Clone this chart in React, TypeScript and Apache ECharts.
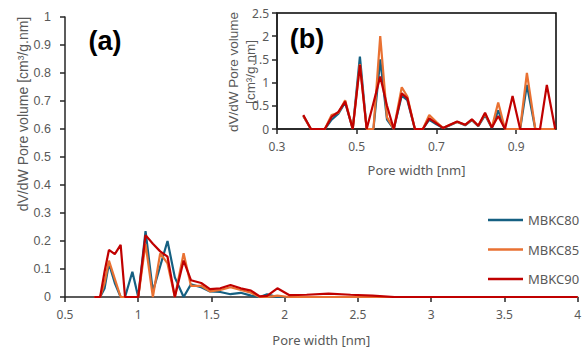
import React, { useEffect, useRef } from "react";
import * as echarts from "echarts";

// Main chart (a)
const mainWidth = [0.70, 0.74, 0.77, 0.80, 0.84, 0.88, 0.91, 0.96, 1.00, 1.05, 1.10, 1.15, 1.20, 1.25, 1.31, 1.36, 1.43, 1.49, 1.56, 1.63, 1.70, 1.77, 1.83, 1.88, 1.95, 2.03, 2.15, 2.30, 2.45, 2.60, 2.75, 3.00, 3.50, 4.00];
const mbkc80Main = [0, 0, 0.03, 0.12, 0.05, 0, 0, 0.09, 0, 0.235, 0.02, 0.11, 0.2, 0.07, 0, 0.045, 0.035, 0.02, 0.018, 0.01, 0.015, 0.005, 0, 0.01, 0, 0, 0, 0, 0, 0, 0, 0, 0, 0];
const mbkc85Main = [0, 0, 0.05, 0.13, 0.065, 0, 0, 0, 0, 0.19, 0, 0.156, 0.12, 0, 0.156, 0.04, 0.04, 0.02, 0.025, 0.035, 0.025, 0.015, 0, 0, 0.005, 0, 0, 0, 0, 0, 0, 0, 0, 0];
const mbkc90Main = [0, 0, 0.09, 0.168, 0.153, 0.186, 0, 0, 0, 0.221, 0.19, 0.163, 0.144, 0, 0.13, 0.06, 0.05, 0.028, 0.031, 0.043, 0.031, 0.023, 0.002, 0.004, 0.031, 0.007, 0.008, 0.012, 0.008, 0.005, 0, 0, 0, 0];

// Inset (b)
const insetWidth = [0.366, 0.385, 0.403, 0.42, 0.437, 0.454, 0.471, 0.49, 0.508, 0.525, 0.542, 0.559, 0.576, 0.593, 0.613, 0.627, 0.646, 0.666, 0.682, 0.70, 0.717, 0.734, 0.752, 0.772, 0.789, 0.805, 0.822, 0.839, 0.855, 0.872, 0.891, 0.91, 0.927, 0.948, 0.96, 0.977, 0.998];
const mbkc80Inset = [0.28, 0, 0, 0, 0.2, 0.33, 0.57, 0, 1.56, 0, 0, 1.5, 0.2, 0, 0.72, 0.62, 0, 0, 0.2, 0.1, 0.02, 0.08, 0.15, 0.08, 0.19, 0.06, 0.3, 0.02, 0.4, 0, 0, 0, 0.95, 0, 0, 0, 0];
const mbkc85Inset = [0.28, 0, 0, 0, 0.3, 0.35, 0.62, 0, 1.4, 0, 0, 2.0, 0.25, 0, 0.9, 0.7, 0, 0, 0.3, 0.15, 0.02, 0.09, 0.15, 0.09, 0.2, 0.07, 0.33, 0.03, 0.57, 0, 0, 0, 1.21, 0, 0, 0, 0];
const mbkc90Inset = [0.30, 0, 0, 0, 0.26, 0.37, 0.59, 0, 1.38, 0, 0.56, 1.13, 0.5, 0, 0.77, 0.66, 0, 0, 0.23, 0.12, 0.02, 0.09, 0.16, 0.09, 0.21, 0.07, 0.35, 0.03, 0.28, 0, 0.71, 0, 0, 0, 0, 0.95, 0];

const seriesNames = ["MBKC80", "MBKC85", "MBKC90"];
const seriesColors = ["#156082", "#E97132", "#C00000"];
const insetXTicks = [0.3, 0.5, 0.7, 0.9];

const zip = (xs: number[], ys: number[]) => xs.map((x, i) => [x, ys[i]]);

export default function App() {
  const ref = useRef<HTMLDivElement>(null);
  useEffect(() => {
    if (!ref.current) return;
    const chart = echarts.init(ref.current, null, { renderer: "svg" });
    const labelColor = "#595959";
    const axisColor = "#262626";
    const mainSets = [mbkc80Main, mbkc85Main, mbkc90Main];
    const insetSets = [mbkc80Inset, mbkc85Inset, mbkc90Inset];
    const series: any[] = [];
    mainSets.forEach((vals, i) => {
      series.push({
        name: seriesNames[i],
        type: "line",
        xAxisIndex: 0,
        yAxisIndex: 0,
        data: zip(mainWidth, vals),
        showSymbol: false,
        lineStyle: { color: seriesColors[i], width: 2.2 },
        itemStyle: { color: seriesColors[i] },
        z: 2 + i,
      });
    });
    insetSets.forEach((vals, i) => {
      series.push({
        name: seriesNames[i],
        type: "line",
        xAxisIndex: 1,
        yAxisIndex: 1,
        data: zip(insetWidth, vals),
        showSymbol: false,
        lineStyle: { color: seriesColors[i], width: 2.2 },
        itemStyle: { color: seriesColors[i] },
        z: 12 + i,
      });
    });

    chart.setOption({
      animation: false,
      backgroundColor: "#fff",
      grid: [
        { left: 65, top: 17, right: 4, bottom: 59 },
        {
          left: 277, top: 13, right: 28, bottom: 227,
          show: true, backgroundColor: "#fff", borderColor: "#000", borderWidth: 1.5, z: 10,
        },
      ],
      legend: {
        data: seriesNames,
        orient: "vertical",
        left: 483,
        top: 208,
        icon: "rect",
        itemWidth: 35,
        itemHeight: 2.5,
        itemGap: 15.5,
        textStyle: { fontSize: 13, color: labelColor, fontFamily: "Noto Sans", lineHeight: 14 },
      },
      xAxis: [
        {
          type: "value", gridIndex: 0, min: 0.5, max: 4, interval: 0.5,
          axisLine: { show: true, onZero: false, lineStyle: { color: axisColor, width: 1.5 } },
          axisTick: { show: true, length: 5, lineStyle: { color: axisColor, width: 1.5 } },
          axisLabel: { color: labelColor, fontSize: 12, margin: 11, fontFamily: "Noto Sans" },
          splitLine: { show: false },
          name: "Pore width [nm]", nameLocation: "middle", nameGap: 36,
          nameTextStyle: { fontSize: 13, color: labelColor, fontFamily: "Noto Sans" },
        },
        {
          type: "value", gridIndex: 1, min: 0.3, max: 1.0,
          axisLine: { show: true, onZero: false, lineStyle: { color: axisColor, width: 1.5 } },
          axisTick: { show: true, length: 5, customValues: insetXTicks, lineStyle: { color: axisColor, width: 1.5 } },
          axisLabel: { color: labelColor, fontSize: 12, margin: 11, fontFamily: "Noto Sans", customValues: insetXTicks },
          splitLine: { show: false },
          name: "Pore width [nm]", nameLocation: "middle", nameGap: 34,
          nameTextStyle: { fontSize: 13, color: labelColor, fontFamily: "Noto Sans" },
          z: 11,
        },
      ],
      yAxis: [
        {
          type: "value", gridIndex: 0, min: 0, max: 1, interval: 0.1,
          axisLine: { show: true, onZero: false, lineStyle: { color: axisColor, width: 1.5 } },
          axisTick: { show: true, length: 5, lineStyle: { color: axisColor, width: 1.5 } },
          axisLabel: { color: labelColor, fontSize: 12.5, margin: 14, fontFamily: "Liberation Sans" },
          splitLine: { show: false },
        },
        {
          type: "value", gridIndex: 1, min: 0, max: 2.5, interval: 0.5,
          axisLine: { show: true, onZero: false, lineStyle: { color: axisColor, width: 1.5 } },
          axisTick: { show: true, length: 5, lineStyle: { color: axisColor, width: 1.5 } },
          axisLabel: { color: labelColor, fontSize: 12, margin: 8, fontFamily: "Noto Sans" },
          splitLine: { show: false },
          z: 11,
        },
      ],
      graphic: [
        {
          type: "text", x: 23, y: 114, rotation: Math.PI / 2, z: 100,
          style: {
            text: "dV/dW Pore volume [cm³/g.nm]", fontSize: 14, fontFamily: "Liberation Sans",
            fill: labelColor, textAlign: "center", textVerticalAlign: "middle",
          },
        },
        {
          type: "text", x: 242, y: 72, rotation: Math.PI / 2, z: 100,
          style: {
            text: "dV/dW Pore volume\n[cm³/g.nm]", fontSize: 13.5, lineHeight: 17, fontFamily: "Liberation Sans",
            fill: labelColor, textAlign: "center", textVerticalAlign: "middle",
          },
        },
        {
          type: "text", x: 105, y: 41, z: 100,
          style: {
            text: "(a)", fontSize: 27, fontWeight: "bold", fontFamily: "Liberation Sans",
            fill: "#000", textAlign: "center", textVerticalAlign: "middle",
          },
        },
        {
          type: "text", x: 307, y: 39, z: 100,
          style: {
            text: "(b)", fontSize: 27, fontWeight: "bold", fontFamily: "Liberation Sans",
            fill: "#000", textAlign: "center", textVerticalAlign: "middle",
          },
        },
      ],
      series,
    });
    return () => chart.dispose();
  }, []);
  return <div ref={ref} style={{ width: 584, height: 356, position: "absolute", left: 0, top: 0 }} />;
}
